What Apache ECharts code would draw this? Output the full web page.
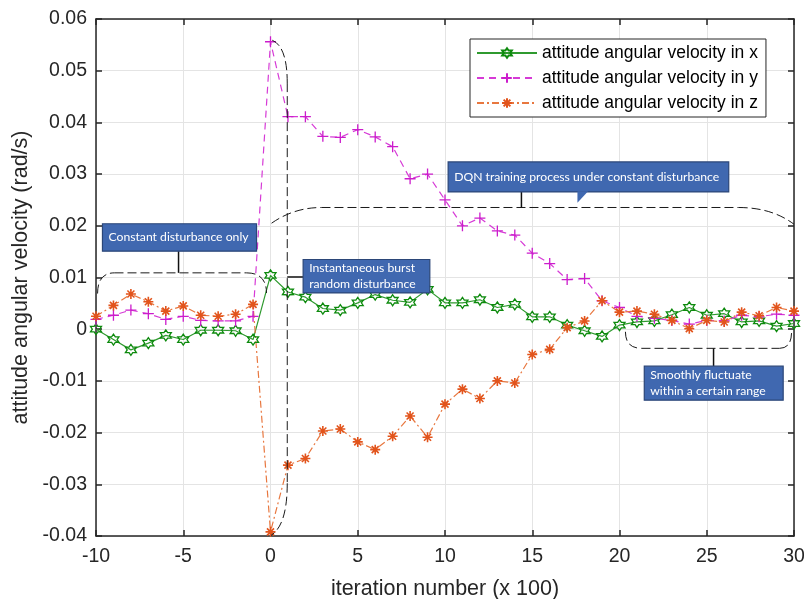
<!DOCTYPE html>
<html>
<head>
<meta charset="utf-8">
<script src="https://cdn.jsdelivr.net/npm/echarts@6/dist/echarts.min.js"></script>
<style>
  html, body { margin: 0; padding: 0; background: #fff; }
  #chart { width: 804px; height: 599px; }
</style>
</head>
<body>
<div id="chart"></div>
<script>
// iteration number (x 100)
const iterations = [-10, -9, -8, -7, -6, -5, -4, -3, -2, -1, 0, 1, 2, 3, 4, 5, 6, 7, 8, 9, 10,
  11, 12, 13, 14, 15, 16, 17, 18, 19, 20, 21, 22, 23, 24, 25, 26, 27, 28, 29, 30];

// attitude angular velocity (rad/s)
const velX = [0, -0.002, -0.004, -0.0027, -0.0012, -0.002, -0.0002, -0.0002, -0.0003, -0.002,
  0.0104, 0.0072, 0.0062, 0.004, 0.0037, 0.0051, 0.0067, 0.0056, 0.0052, 0.0077, 0.0051,
  0.0051, 0.0057, 0.0042, 0.0048, 0.0024, 0.0024, 0.0008, -0.0003, -0.0014, 0.0008,
  0.0014, 0.0016, 0.0028, 0.0042, 0.0027, 0.003, 0.0014, 0.0016, 0.0006, 0.0011];
const velY = [0.0019, 0.0027, 0.0037, 0.003, 0.0019, 0.0025, 0.0017, 0.0016, 0.0016, 0.0025,
  0.0556, 0.0411, 0.0411, 0.0373, 0.0371, 0.0386, 0.0372, 0.0353, 0.0291, 0.030, 0.025,
  0.020, 0.0215, 0.019, 0.0182, 0.0147, 0.0127, 0.0096, 0.0098, 0.0055, 0.0042,
  0.0025, 0.0021, 0.0017, 0.001, 0.0017, 0.0016, 0.0027, 0.0024, 0.0029, 0.0027];
const velZ = [0.0025, 0.0046, 0.0068, 0.0053, 0.0035, 0.0045, 0.0027, 0.0025, 0.0029, 0.0048,
  -0.0392, -0.0263, -0.025, -0.0197, -0.0193, -0.0218, -0.0233, -0.0207, -0.0168, -0.0209, -0.0145,
  -0.0116, -0.0134, -0.01, -0.0104, -0.0049, -0.0039, 0.0003, 0.0016, 0.0055, 0.0033,
  0.0035, 0.0029, 0.0017, 0.0001, 0.0017, 0.0014, 0.0033, 0.0026, 0.0042, 0.0035];

const seriesNames = ['attitude angular velocity in x', 'attitude angular velocity in y', 'attitude angular velocity in z'];

const chart = echarts.init(document.getElementById('chart'));
const axisColor = '#262626';
const gridColor = '#e4e4e4';

function hexagram() {
  const pts = [];
  for (let k = 0; k < 12; k++) {
    const a = (-90 + k * 30) * Math.PI / 180;
    const r = k % 2 === 0 ? 10 : 5.8;
    pts.push((10 + r * Math.cos(a)).toFixed(2) + ',' + (10 + r * Math.sin(a)).toFixed(2));
  }
  return 'path://M' + pts.join('L') + 'Z';
}

function pairs(vals) {
  return iterations.map((t, i) => [t, vals[i]]);
}

const baseX = {
  type: 'value', min: -10, max: 30, interval: 5,
  axisLine: { show: true, onZero: false, lineStyle: { color: axisColor, width: 1.5 } },
  axisTick: { show: true, inside: true, length: 6, lineStyle: { color: axisColor, width: 1.5 } }
};
const baseY = {
  type: 'value', min: -0.04, max: 0.06, interval: 0.01,
  axisLine: { show: true, onZero: false, lineStyle: { color: axisColor, width: 1.5 } },
  axisTick: { show: true, inside: true, length: 6, lineStyle: { color: axisColor, width: 1.5 } }
};

let option = {
  animation: false,
  backgroundColor: '#fff',
  grid: { left: 96, right: 10, top: 19, bottom: 63, outerBoundsMode: 'none' },
  legend: {
    orient: 'vertical', left: 470, top: 39,
    itemWidth: 60, itemHeight: 12, itemGap: 7,
    padding: [5, 8, 5, 6],
    selectedMode: false,
    backgroundColor: '#fff', borderColor: axisColor, borderWidth: 1,
    textStyle: { fontFamily: 'Liberation Sans', fontSize: 17.5, color: '#000' },
    data: seriesNames
  },
  xAxis: [
    {
      ...baseX, position: 'bottom',
      name: 'iteration number (x 100)', nameLocation: 'middle', nameGap: 42,
      nameTextStyle: { fontFamily: 'Liberation Sans', fontSize: 21.5, color: axisColor },
      axisLabel: { fontFamily: 'Liberation Sans', fontSize: 19.5, color: axisColor, margin: 11 },
      splitLine: { show: true, lineStyle: { color: gridColor, width: 1 } }
    },
    { ...baseX, position: 'top', axisLabel: { show: false }, splitLine: { show: false } }
  ],
  yAxis: [
    {
      ...baseY, position: 'left',
      name: 'attitude angular velocity (rad/s)', nameLocation: 'middle', nameGap: 60,
      nameTextStyle: { fontFamily: 'Liberation Sans', fontSize: 21.5, color: axisColor },
      axisLabel: { fontFamily: 'Liberation Sans', fontSize: 19.5, color: axisColor, margin: 9 },
      splitLine: { show: true, lineStyle: { color: gridColor, width: 1 } }
    },
    { ...baseY, position: 'right', axisLabel: { show: false }, splitLine: { show: false } }
  ],
  series: [
    {
      name: seriesNames[0], type: 'line', data: pairs(velX),
      symbol: hexagram(), symbolSize: 11,
      lineStyle: { color: '#2f9a2f', width: 1.2 },
      itemStyle: { color: 'rgba(0,0,0,0)', borderColor: '#0d8a0d', borderWidth: 1.3 },
      emphasis: { disabled: true }
    },
    {
      name: seriesNames[1], type: 'line', data: pairs(velY),
      symbol: 'path://M5,0L5,10M0,5L10,5', symbolSize: 11,
      lineStyle: { color: '#d63ad6', width: 1.2, type: [7, 5] },
      itemStyle: { color: 'rgba(0,0,0,0)', borderColor: '#cc1ccc', borderWidth: 1.3 },
      emphasis: { disabled: true }
    },
    {
      name: seriesNames[2], type: 'line', data: pairs(velZ),
      symbol: 'path://M5,0L5,10M0,5L10,5M1.5,1.5L8.5,8.5M1.5,8.5L8.5,1.5', symbolSize: 10,
      lineStyle: { color: '#e8773f', width: 1.2, type: [7, 3, 2, 3] },
      itemStyle: { color: 'rgba(0,0,0,0)', borderColor: '#e2541c', borderWidth: 1.6 },
      emphasis: { disabled: true }
    }
  ]
};

chart.setOption(option);

// annotation geometry, in data units
function P(x, y) {
  return chart.convertToPixel({ xAxisIndex: 0, yAxisIndex: 0 }, [x, y]);
}
const boxFill = '#4068b0';
const boxStroke = '#2b4678';
const annoFont = '12.2px Lato';
const dashStyle = { stroke: '#1a1a1a', lineWidth: 1, lineDash: [9, 4], fill: null };
const solidStyle = { stroke: '#111', lineWidth: 1.5 };

const graphics = [];

function curve(a, b, f) {
  const p0 = P(a[0], a[1]), p1 = P(b[0], b[1]);
  graphics.push({
    type: 'bezierCurve', z: 50,
    shape: { x1: p0[0], y1: p0[1], x2: p1[0], y2: p1[1],
      cpx1: p0[0] + f[0] * (p1[0] - p0[0]), cpy1: p0[1] + f[1] * (p1[1] - p0[1]) },
    style: dashStyle
  });
}
function seg(a, b, style) {
  const p0 = P(a[0], a[1]), p1 = P(b[0], b[1]);
  graphics.push({ type: 'line', z: 50, shape: { x1: p0[0], y1: p0[1], x2: p1[0], y2: p1[1] }, style: style });
}
function box(x0, y0, x1, y1, text) {
  const p0 = P(x0, y0), p1 = P(x1, y1);
  graphics.push({
    type: 'rect', z: 60,
    shape: { x: p0[0], y: p0[1], width: p1[0] - p0[0], height: p1[1] - p0[1] },
    style: { fill: boxFill, stroke: boxStroke, lineWidth: 1.2 }
  });
  graphics.push({
    type: 'text', z: 61, x: p0[0] + 6, y: (p0[1] + p1[1]) / 2,
    style: { text: text, fill: '#fff', font: annoFont, verticalAlign: 'middle', lineHeight: 16 }
  });
}

// constant disturbance only
curve([-9.91, 0.0069], [-8.94, 0.0109], [0, 1]);
seg([-8.94, 0.0109], [-1.38, 0.0109], dashStyle);
curve([-1.38, 0.0109], [-0.23, 0.0070], [1, 0]);
seg([-5.27, 0.0151], [-5.27, 0.0109], solidStyle);
box(-9.63, 0.0204, -0.8, 0.0151, 'Constant disturbance only');

// instantaneous burst
curve([0.1, 0.0559], [0.96, 0.0476], [1, 0.15]);
seg([0.96, 0.0476], [0.96, -0.0298], dashStyle);
curve([0.96, -0.0298], [0.06, -0.0398], [0, 0.8]);
seg([0.96, 0.0101], [1.87, 0.0101], solidStyle);
box(1.87, 0.01348, 9.13, 0.00702, 'Instantaneous burst\nrandom disturbance');

// DQN training
curve([0.06, 0.0205], [2.92, 0.02354], [0.45, 1]);
seg([2.92, 0.02354], [26.82, 0.02354], dashStyle);
curve([26.82, 0.02354], [30, 0.0203], [0.6, 0]);
seg([14.38, 0.02656], [14.38, 0.02354], solidStyle);
box(10.18, 0.03236, 26.26, 0.02656, 'DQN training process under constant disturbance');
(function () {
  const a = P(17.59, 0.0267), b = P(17.59, 0.02445), c = P(18.2, 0.0267);
  graphics.push({ type: 'polygon', z: 62, shape: { points: [a, b, c] }, style: { fill: boxFill } });
})();

// smooth range
curve([20.34, -0.0005], [21.26, -0.0037], [0, 1]);
seg([21.26, -0.0037], [29.17, -0.0037], dashStyle);
curve([29.17, -0.0037], [29.86, -0.0005], [1, 0]);
seg([25.39, -0.0037], [25.39, -0.00716], solidStyle);
box(21.42, -0.00716, 29.38, -0.01373, 'Smoothly fluctuate\nwithin a certain range');

chart.setOption({ graphic: { elements: graphics } });
</script>
</body>
</html>
